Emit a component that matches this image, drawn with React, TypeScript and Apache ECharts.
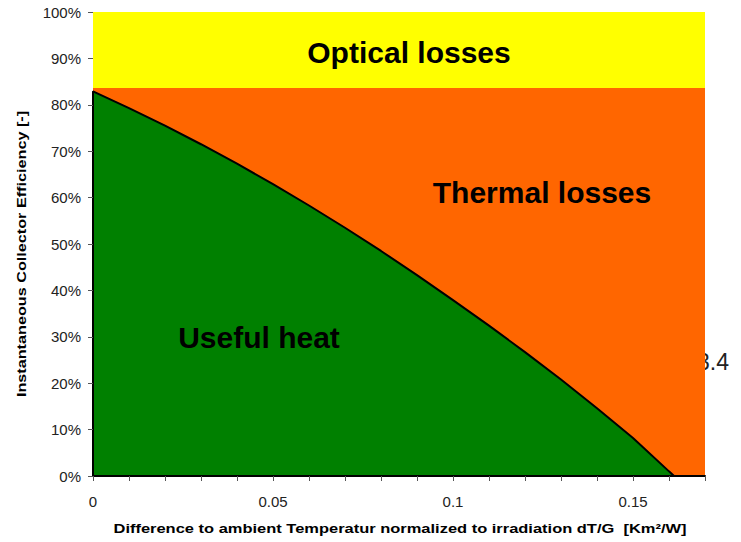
import React, { useEffect, useRef } from "react";
import * as echarts from "echarts";

// dT/G values [K m²/W]
const xValues = [0, 0, 0.01, 0.02, 0.03, 0.04, 0.05, 0.06, 0.07, 0.08, 0.09, 0.1, 0.11, 0.12, 0.13, 0.14, 0.15, 0.16, 0.1614];
// instantaneous collector efficiency (fraction)
const efficiency = [0, 0.829, 0.793, 0.755, 0.715, 0.673, 0.629, 0.583, 0.535, 0.485, 0.433, 0.379, 0.324, 0.267, 0.208, 0.146, 0.082, 0.01, 0];
// optical efficiency limit & upper bound
const opticalLimit = 0.836;
const upperBound = 1.0;
const xRange = [0, 0.17];
const xLabelValues = [0, 0.05, 0.1, 0.15];

const regionLabels = ["Optical losses", "Thermal losses", "Useful heat"];
const sideText = "3.4";
const yTitle = "Instantaneous Collector Efficiency [-]";
const xTitle = "Difference to ambient Temperatur normalized to irradiation dT/G  [Km²/W]";

export default function App() {
  const ref = useRef<HTMLDivElement>(null);
  useEffect(() => {
    if (!ref.current) return;
    const chart = echarts.init(ref.current, null, { renderer: "svg" });
    const font = "'Liberation Sans', Arial, Helvetica, sans-serif";
    const curve = xValues.map((x, i) => [x, efficiency[i]]);
    const bigLabel = (text: string, x: number, y: number) => ({
      type: "text",
      z: 20,
      x,
      y,
      style: {
        text,
        fontSize: 30,
        fontWeight: "bold",
        fontFamily: font,
        fill: "#000",
        align: "center",
        verticalAlign: "middle",
      },
    });
    chart.setOption({
      animation: false,
      backgroundColor: "#ffffff",
      grid: { left: 93, top: 12, right: 36, bottom: 66 },
      xAxis: {
        type: "value",
        min: xRange[0],
        max: xRange[1],
        interval: 0.01,
        z: 10,
        splitLine: { show: false },
        axisLine: { show: true, lineStyle: { color: "#000", width: 2 } },
        axisTick: { show: true, length: 5, lineStyle: { color: "#555", width: 1 } },
        axisLabel: {
          margin: 18,
          fontSize: 15,
          fontFamily: font,
          color: "#222",
          formatter: (v: number) => {
            const hit = xLabelValues.find((l) => Math.abs(l - v) < 1e-6);
            return hit === undefined ? "" : String(hit);
          },
        },
      },
      yAxis: {
        type: "value",
        min: 0,
        max: 1,
        interval: 0.1,
        z: 10,
        splitLine: { show: false },
        axisLine: { show: false },
        axisTick: { show: true, length: 5, lineStyle: { color: "#555", width: 1 } },
        axisLabel: {
          margin: 12,
          fontSize: 15,
          fontFamily: font,
          color: "#222",
          formatter: (v: number) => Math.round(v * 100) + "%",
        },
      },
      series: [
        {
          type: "line",
          z: 1,
          showSymbol: false,
          silent: true,
          data: [[xRange[0], upperBound], [xRange[1], upperBound]],
          lineStyle: { width: 0 },
          areaStyle: { color: "#FFFF00", opacity: 1, origin: "start" },
        },
        {
          type: "line",
          z: 2,
          showSymbol: false,
          silent: true,
          data: [[xRange[0], opticalLimit], [xRange[1], opticalLimit]],
          lineStyle: { width: 0 },
          areaStyle: { color: "#FF6600", opacity: 1, origin: "start" },
        },
        {
          type: "line",
          z: 3,
          showSymbol: false,
          silent: true,
          data: curve,
          lineStyle: { color: "#000", width: 2 },
          areaStyle: { color: "#008000", opacity: 1, origin: "start" },
        },
      ],
      graphic: [
        {
          type: "text",
          z: 0,
          x: 729,
          y: 362,
          style: {
            text: sideText,
            fontSize: 23,
            fontFamily: font,
            fill: "#222",
            align: "right",
            verticalAlign: "middle",
          },
        },
        bigLabel(regionLabels[0], 409, 52),
        bigLabel(regionLabels[1], 542, 192),
        bigLabel(regionLabels[2], 259, 337),
        {
          type: "text",
          z: 20,
          x: 21,
          y: 254,
          rotation: Math.PI / 2,
          scaleX: 1.2,
          style: {
            text: yTitle,
            fontSize: 13.5,
            fontWeight: "bold",
            fontFamily: font,
            fill: "#000",
            align: "center",
            verticalAlign: "middle",
          },
        },
        {
          type: "text",
          z: 20,
          x: 400,
          y: 528,
          scaleX: 1.22,
          style: {
            text: xTitle,
            fontSize: 13.5,
            fontWeight: "bold",
            fontFamily: font,
            fill: "#000",
            align: "center",
            verticalAlign: "middle",
          },
        },
      ],
    });
    return () => chart.dispose();
  }, []);
  return (
    <div
      ref={ref}
      style={{ position: "fixed", left: 0, top: 0, width: 741, height: 542, background: "#fff" }}
    />
  );
}
